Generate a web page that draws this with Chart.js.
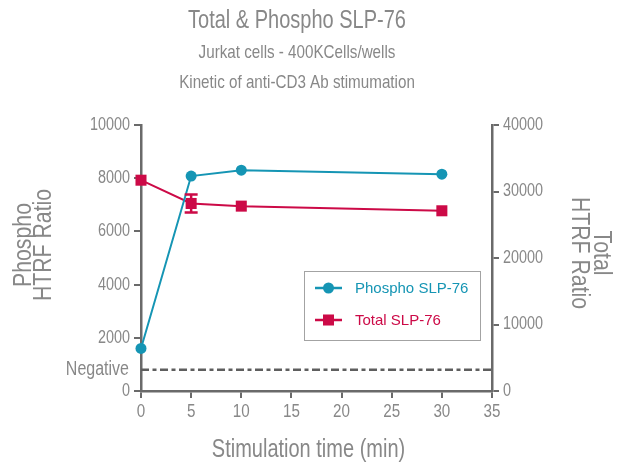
<!DOCTYPE html>
<html>
<head>
<meta charset="utf-8">
<script src="https://cdn.jsdelivr.net/npm/chart.js@4.4.1/dist/chart.umd.min.js"></script>
<style>
	html, body { margin: 0; padding: 0; background: #fff; }
	#wrap { width: 622px; height: 466px; }
</style>
</head>
<body>
<div id="wrap"><canvas id="kinetic"></canvas></div>
<script>
// stimulation kinetics (min) and HTRF ratios
var times = [0, 5, 10, 30];
var phospho = [1600, 8080, 8300, 8150];
var total = [31700, 28200, 27800, 27100];
var totalErr = [0, 1350, 0, 0];
var negative = 800;

var seriesNames = ["Phospho SLP-76", "Total SLP-76"];
var titleText = "Total & Phospho SLP-76";
var subtitleLines = ["Jurkat cells - 400KCells/wells", "Kinetic of anti-CD3 Ab stimumation"];
var xTitle = "Stimulation time (min)";
var leftTitle = ["Phospho", "HTRF Ratio"];
var rightTitle = ["Total", "HTRF Ratio"];

var sans = "'Liberation Sans', Arial, sans-serif";
var squeeze = 0.8;   // condensed look for the axis / title lettering
var grey = "#888888";
var axisGrey = "#6a6a6a";
var blue = "#1595b4";
var red = "#cc0a47";

function points(xs, ys) {
	var out = [];
	for (var i = 0; i < xs.length; i++) out.push({ x: xs[i], y: ys[i] });
	return out;
}

function axis(extra) {
	var base = {
		grid: { drawOnChartArea: false, drawTicks: true, tickLength: 7, color: axisGrey, lineWidth: 2 },
		border: { color: axisGrey, width: 2.5 },
		ticks: { display: false }
	};
	return Object.assign(base, extra);
}

// condensed text helper, optionally rotated
function label(ctx, lines, x, y, size, opt) {
	opt = opt || {};
	if (!Array.isArray(lines)) lines = [lines];
	var lh = opt.lh || size;
	ctx.save();
	ctx.translate(x, y);
	if (opt.angle) ctx.rotate(opt.angle);
	ctx.scale(opt.sx || squeeze, 1);
	ctx.font = size + "px " + sans;
	ctx.fillStyle = opt.color || grey;
	ctx.textAlign = opt.align || "center";
	ctx.textBaseline = "middle";
	for (var i = 0; i < lines.length; i++) {
		ctx.fillText(lines[i], 0, (i - (lines.length - 1) / 2) * lh);
	}
	ctx.restore();
}

var extras = {
	id: "extras",
	afterDatasetsDraw: function(chart) {
		// error bars on the total series
		var ctx = chart.ctx;
		var x = chart.scales.x, y1 = chart.scales.y1;
		ctx.save();
		ctx.strokeStyle = red;
		ctx.lineWidth = 2.5;
		for (var i = 0; i < times.length; i++) {
			if (!totalErr[i]) continue;
			var px = x.getPixelForValue(times[i]);
			var hi = y1.getPixelForValue(total[i] + totalErr[i]);
			var lo = y1.getPixelForValue(total[i] - totalErr[i]);
			ctx.beginPath();
			ctx.moveTo(px, hi); ctx.lineTo(px, lo);
			ctx.moveTo(px - 6.5, hi); ctx.lineTo(px + 6.5, hi);
			ctx.moveTo(px - 6.5, lo); ctx.lineTo(px + 6.5, lo);
			ctx.stroke();
		}
		ctx.restore();
	},
	afterDraw: function(chart) {
		var ctx = chart.ctx, area = chart.chartArea;
		var sx = chart.scales.x, yl = chart.scales.y, yr = chart.scales.y1;
		var mid = (area.top + area.bottom) / 2;

		// titles
		label(ctx, titleText, 297, 21, 25);
		label(ctx, subtitleLines, 297, 68, 19, { lh: 30 });

		// tick labels from the scales
		sx.ticks.forEach(function(t) {
			label(ctx, String(t.value), sx.getPixelForValue(t.value), area.bottom + 21, 19);
		});
		yl.ticks.forEach(function(t) {
			label(ctx, String(t.value), area.left - 11, yl.getPixelForValue(t.value), 18, { align: "right" });
		});
		yr.ticks.forEach(function(t) {
			label(ctx, String(t.value), area.right + 11, yr.getPixelForValue(t.value), 18, { align: "left" });
		});

		// axis titles
		label(ctx, leftTitle, 34, mid - 13, 25, { angle: -Math.PI / 2, lh: 20, sx: 0.85 });
		label(ctx, rightTitle, 590, mid - 5, 25, { angle: Math.PI / 2, lh: 22, sx: 0.85 });
		label(ctx, xTitle, (area.left + area.right) / 2 - 8, 450, 25);

		// negative control label
		label(ctx, "Negative", area.left - 12, yl.getPixelForValue(negative), 20, { align: "right" });

		// legend box
		var bx = area.right - 188, by = area.bottom - 120, bw = 176, bh = 69;
		ctx.save();
		ctx.strokeStyle = "#a3a3a3";
		ctx.lineWidth = 1;
		ctx.strokeRect(bx + 0.5, by + 0.5, bw, bh);
		ctx.font = "15px " + sans;
		ctx.textBaseline = "middle";
		ctx.textAlign = "left";
		for (var i = 0; i < 2; i++) {
			var ds = chart.data.datasets[i];
			var ry = by + 17 + i * 32;
			ctx.strokeStyle = ds.borderColor;
			ctx.lineWidth = 2.5;
			ctx.beginPath();
			ctx.moveTo(bx + 11, ry); ctx.lineTo(bx + 38, ry);
			ctx.stroke();
			ctx.fillStyle = ds.backgroundColor;
			Chart.helpers.drawPoint(ctx, { pointStyle: ds.pointStyle, radius: ds.pointRadius, rotation: 0, borderWidth: 0 }, bx + 24.5, ry);
			ctx.fillStyle = ds.borderColor;
			ctx.fillText(ds.label, bx + 51, ry + 1);
		}
		ctx.restore();
	}
};

new Chart(document.getElementById("kinetic"), {
	type: "line",
	data: {
		datasets: [{
			label: seriesNames[0],
			data: points(times, phospho),
			yAxisID: "y",
			borderColor: blue,
			backgroundColor: blue,
			borderWidth: 2,
			pointStyle: "circle",
			pointRadius: 5.5,
			pointBorderWidth: 0,
			clip: false
		}, {
			label: seriesNames[1],
			data: points(times, total),
			yAxisID: "y1",
			borderColor: red,
			backgroundColor: red,
			borderWidth: 2,
			pointStyle: "rect",
			pointRadius: 7.8,
			pointBorderWidth: 0,
			clip: false
		}, {
			label: "Negative",
			data: points([0, 35], [negative, negative]),
			yAxisID: "y",
			borderColor: "#5e5e5e",
			borderWidth: 2.5,
			borderDash: [8, 3.5, 4, 3.5],
			pointRadius: 0
		}]
	},
	options: {
		responsive: true,
		maintainAspectRatio: false,
		animation: false,
		events: [],
		layout: { padding: { top: 125 } },
		plugins: {
			legend: { display: false },
			tooltip: { enabled: false }
		},
		scales: {
			x: axis({
				type: "linear", min: 0, max: 35,
				ticks: { display: false, stepSize: 5 },
				afterFit: function(s) { s.height = 75; }
			}),
			y: axis({
				position: "left", min: 0, max: 10000,
				ticks: { display: false, stepSize: 2000 },
				afterFit: function(s) { s.width = 141; }
			}),
			y1: axis({
				position: "right", min: 0, max: 40000,
				ticks: { display: false, stepSize: 10000 },
				afterFit: function(s) { s.width = 130; }
			})
		}
	},
	plugins: [extras]
});
</script>
</body>
</html>
